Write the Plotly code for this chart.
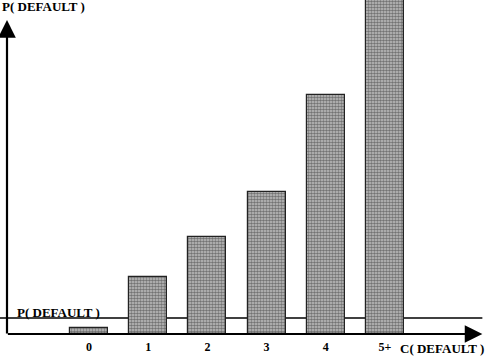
import plotly.graph_objects as go

categories = ["0", "1", "2", "3", "4", "5+"]
positions = [0, 1, 2, 3, 4, 5]
p_default = [6, 57, 97, 142, 239, 334]
baseline_p = 16

FONT = dict(family="Liberation Serif", size=13, color="black")
TFONT = dict(family="Liberation Serif", size=12, color="black")

fig = go.Figure()
fig.add_trace(go.Bar(
    x=positions, y=p_default, width=0.64,
    marker=dict(color="#a8a8a8",
                line=dict(color="#222", width=1.2),
                pattern=dict(shape=".", fgcolor="#222", bgcolor="#c4c4c4", size=3, solidity=0.6)),
    showlegend=False,
))

# horizontal reference line (behind bars)
fig.add_shape(type="line", xref="paper", yref="y", x0=-0.015, x1=1.005, layer="below",
              y0=baseline_p, y1=baseline_p, line=dict(color="black", width=1.3))

# axes with arrows
fig.add_annotation(xref="paper", yref="paper", x=0, y=0.94, ax=0, ay=315,
                   showarrow=True, arrowhead=2, arrowsize=1.6, arrowwidth=2.2,
                   arrowcolor="black", text="")
fig.add_annotation(xref="paper", yref="paper", x=1.005, y=0, ax=-476, ay=0,
                   showarrow=True, arrowhead=2, arrowsize=1.6, arrowwidth=2.2,
                   arrowcolor="black", text="")

fig.add_annotation(xref="paper", yref="paper", x=-0.015, y=1.01, xanchor="left", yanchor="top",
                   text="<b>P( DEFAULT )</b>", showarrow=False, font=FONT)
fig.add_annotation(xref="paper", yref="y", x=0.017, y=baseline_p, xanchor="left", yanchor="bottom",
                   yshift=-4, text="<b>P( DEFAULT )</b>", showarrow=False, font=FONT)
fig.add_annotation(xref="paper", yref="paper", x=1.012, y=0, xanchor="right", yanchor="top",
                   yshift=-5, text="<b>C( DEFAULT )</b>", showarrow=False, font=FONT)

fig.update_xaxes(range=[-1.385, 6.605], tickvals=positions,
                 ticktext=["<b>%s</b>" % c for c in categories], ticklabelstandoff=4,
                 tickfont=TFONT, showgrid=False, zeroline=False, showline=False, ticks="")
fig.update_yaxes(range=[0, 334], showticklabels=False, showgrid=False, zeroline=False,
                 showline=False, ticks="")

fig.update_layout(width=486, height=364, margin=dict(l=7, r=6, t=0, b=30),
                  plot_bgcolor="white", paper_bgcolor="white", bargap=0)

fig.write_html("out.html")
